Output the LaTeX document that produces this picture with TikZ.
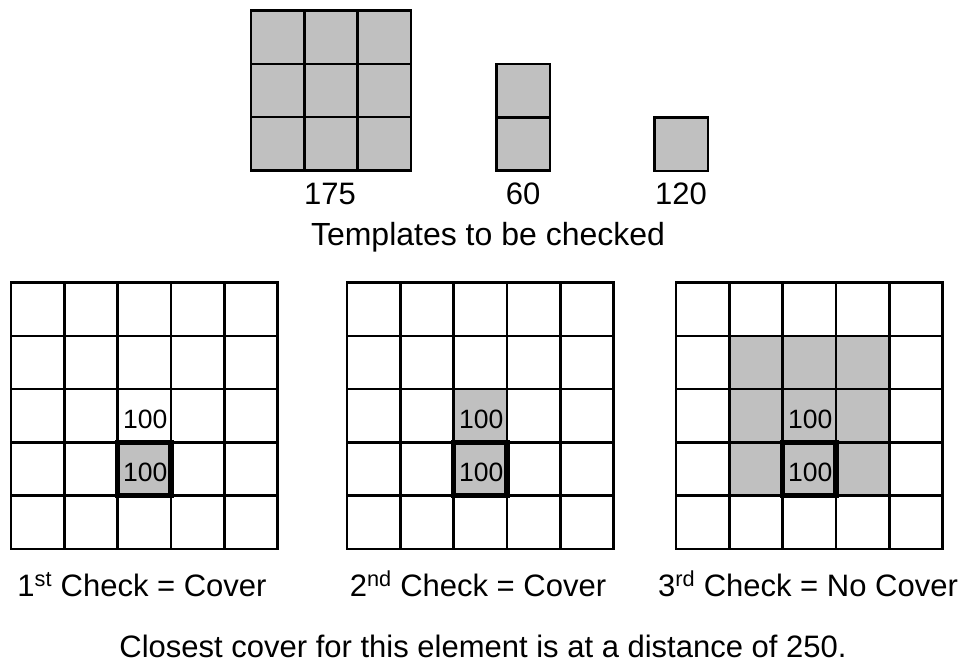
\documentclass[tikz,border=0pt]{standalone}
\usepackage{fontspec}
\setmainfont{Liberation Sans}
\definecolor{cellgray}{HTML}{C0C0C0}
\begin{document}
\begin{tikzpicture}[x=1pt,y=-1pt,
  gridline/.style={line width=2.6pt, line join=miter},
  thickbox/.style={line width=5.5pt, line join=miter},
  graycell/.style={fill=cellgray},
  lbl/.style={font=\fontsize{31}{36}\selectfont, inner sep=0pt, anchor=base},
  title/.style={font=\fontsize{32}{38}\selectfont, inner sep=0pt, anchor=base},
  num/.style={font=\fontsize{26.5}{30}\selectfont, inner sep=0pt, anchor=base}]
\def\cs{53.3}
\useasboundingbox (0,0) rectangle (966,664);
% ---------- templates ----------
\fill[graycell] (251,10.5) rectangle ++(160,160);
\foreach \i in {0,1,2}{\foreach \j in {0,1,2}{
  \draw[gridline] ({251+\i*\cs},{10.5+\j*\cs}) rectangle ++(\cs,\cs);}}
\fill[graycell] (496.5,64) rectangle ++(\cs,{2*\cs});
\foreach \j in {0,1}{\draw[gridline] (496.5,{64+\j*\cs}) rectangle ++(\cs,\cs);}
\fill[graycell] (654.5,117.5) rectangle ++(\cs,\cs);
\draw[gridline] (654.5,117.5) rectangle ++(\cs,\cs);
\node[lbl] (t175) at (330,204) {175};
\node[lbl] (t60) at (523,204) {60};
\node[lbl] (t120) at (681,204) {120};
\node[title] (ttitle) at (488,245) {Templates to be checked};
% ---------- grid 1 ----------
\def\gx{11}\def\gy{282.5}
\fill[graycell] ({\gx+2*\cs},{\gy+3*\cs}) rectangle ++(\cs,\cs);
\foreach \i in {0,...,4}{\foreach \j in {0,...,4}{
  \draw[gridline] ({\gx+\i*\cs},{\gy+\j*\cs}) rectangle ++(\cs,\cs);}}
\draw[thickbox] ({\gx+2*\cs},{\gy+3*\cs}) rectangle ++(\cs,\cs);
\node[num] (a1) at ({\gx+2.5*\cs+1},428.5) {100};
\node[num] (a2) at ({\gx+2.5*\cs+1},481.5) {100};
% ---------- grid 2 ----------
\def\gx{347}
\fill[graycell] ({\gx+2*\cs},{\gy+2*\cs}) rectangle ++(\cs,{2*\cs});
\foreach \i in {0,...,4}{\foreach \j in {0,...,4}{
  \draw[gridline] ({\gx+\i*\cs},{\gy+\j*\cs}) rectangle ++(\cs,\cs);}}
\draw[thickbox] ({\gx+2*\cs},{\gy+3*\cs}) rectangle ++(\cs,\cs);
\node[num] (b1) at ({\gx+2.5*\cs+1},428.5) {100};
\node[num] (b2) at ({\gx+2.5*\cs+1},481.5) {100};
% ---------- grid 3 ----------
\def\gx{676}
\fill[graycell] ({\gx+1*\cs},{\gy+1*\cs}) rectangle ++({3*\cs},{3*\cs});
\foreach \i in {0,...,4}{\foreach \j in {0,...,4}{
  \draw[gridline] ({\gx+\i*\cs},{\gy+\j*\cs}) rectangle ++(\cs,\cs);}}
\draw[thickbox] ({\gx+2*\cs},{\gy+3*\cs}) rectangle ++(\cs,\cs);
\node[num] (c1) at ({\gx+2.5*\cs+1},428.5) {100};
\node[num] (c2) at ({\gx+2.5*\cs+1},481.5) {100};
% ---------- captions ----------
\node[lbl] (k1) at (142,596) {1\textsuperscript{st} Check = Cover};
\node[lbl] (k2) at (478,596) {2\textsuperscript{nd} Check = Cover};
\node[lbl] (k3) at (808,596) {3\textsuperscript{rd} Check = No Cover};
\node[lbl] (bottom) at (483,657) {Closest cover for this element is at a distance of 250.};
\end{tikzpicture}
\end{document}
